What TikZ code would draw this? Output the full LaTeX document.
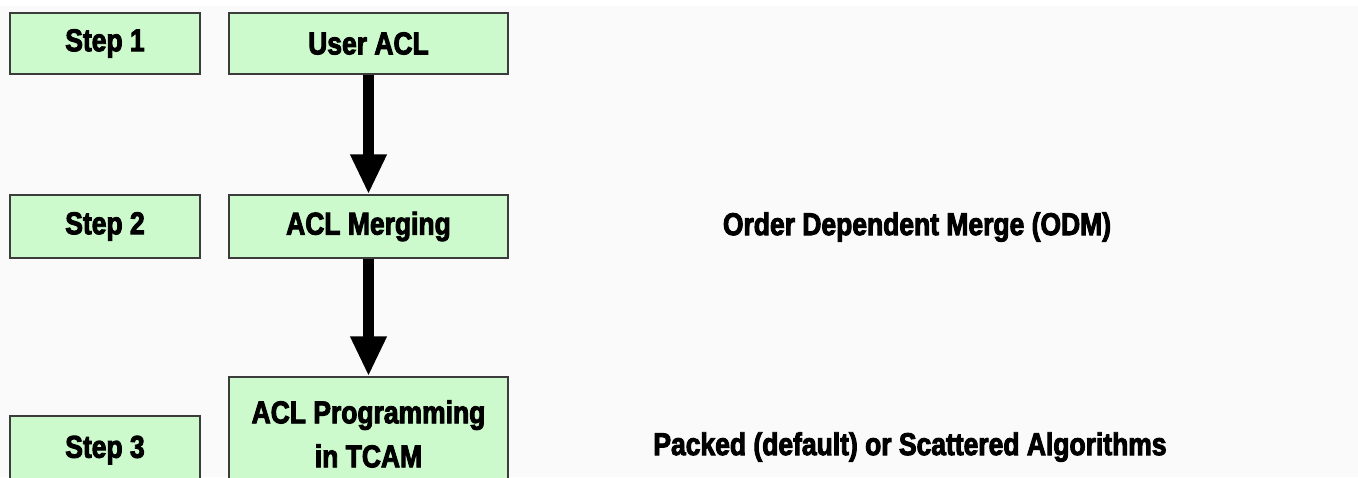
\documentclass[tikz,border=0pt]{standalone}
\usepackage{fontspec}
\newfontfamily\diagfont{Liberation Sans}[FakeStretch=0.84,FakeBold=3]
\usetikzlibrary{arrows.meta}
\definecolor{boxfill}{RGB}{204,250,204}
\definecolor{boxline}{RGB}{60,60,60}
\definecolor{bg}{RGB}{250,250,250}
\tikzset{
  stepbox/.style={draw=boxline, line width=1.5pt, fill=boxfill, minimum width=190pt, inner sep=0pt,
    font=\diagfont\bfseries\fontsize{31.5}{34}\selectfont, text=black},
  procbox/.style={stepbox, minimum width=279pt, align=center},
  note/.style={font=\diagfont\bfseries\fontsize{31.5}{34}\selectfont, text=black, inner sep=0pt},
  flow/.style={line width=11pt, -{Triangle[width=34pt,length=40pt]}, black}
}
\begin{document}
\begin{tikzpicture}[x=1pt,y=1pt]
\useasboundingbox (0,0) rectangle (1358,-477);
\fill[bg] (0,0) rectangle (1358,-477);
\fill[white] (0,0) rectangle (1358,-6);
\clip (0,0) rectangle (1358,-477);
\node[stepbox, minimum height=61pt] (s1) at (105,-43.5) {Step 1};
\node[procbox, minimum height=61pt] (p1) at (368.5,-43.5) {User ACL};
\node[stepbox, minimum height=63pt] (s2) at (105,-226.5) {Step 2};
\node[procbox, minimum height=63pt] (p2) at (368.5,-226.5) {ACL Merging};
\node[stepbox, minimum height=68pt] (s3) at (105,-450) {Step 3};
\node[procbox, minimum height=114pt] (p3) at (368.5,-434) {ACL Programming\\[10pt]in TCAM};
\node[note] (n2) at (917,-227) {Order Dependent Merge (ODM)};
\node[note] (n3) at (910,-447) {Packed (default) or Scattered Algorithms};
\draw[flow] (p1.south) -- (p2.north);
\draw[flow] (p2.south) -- (p3.north);
\end{tikzpicture}
\end{document}
